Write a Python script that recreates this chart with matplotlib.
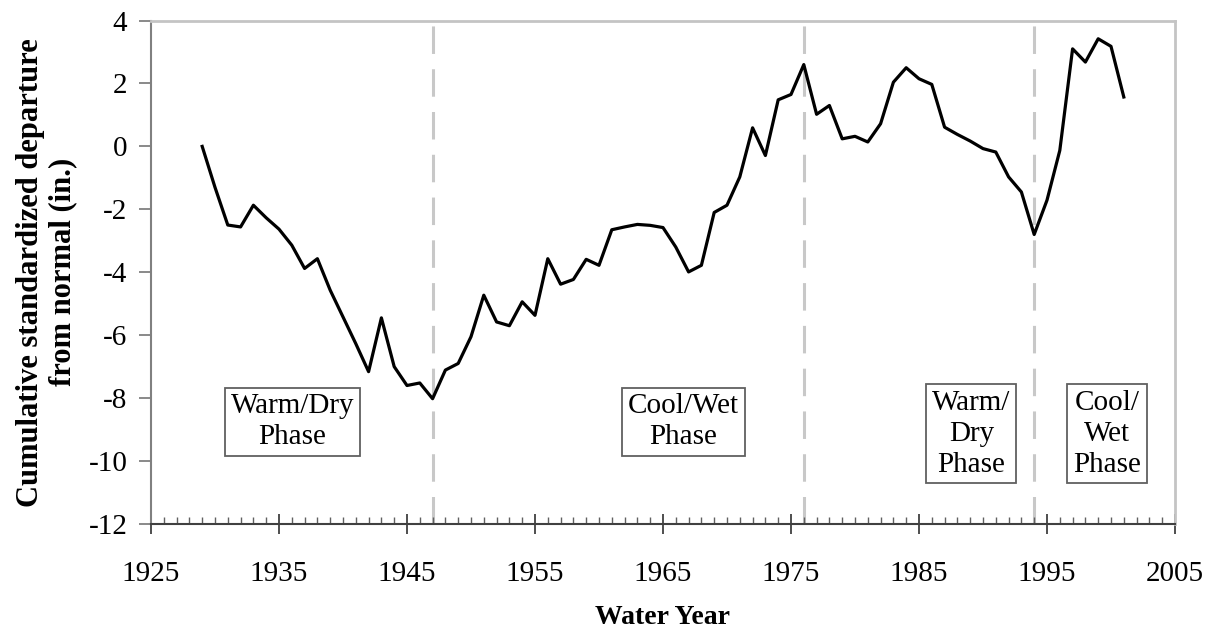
import numpy as np
import matplotlib.pyplot as plt
from matplotlib.ticker import MultipleLocator

plt.rcParams['font.family'] = ['Liberation Serif', 'DejaVu Serif']
plt.rcParams['axes.unicode_minus'] = False

# water years and cumulative standardized departure (in.)
years = list(range(1929, 2002))
departure = [0.0, -1.3, -2.5, -2.56, -1.87, -2.27, -2.63, -3.14, -3.88, -3.57,
             -4.57, -5.42, -6.27, -7.16, -5.45, -7.0, -7.6, -7.52, -8.02,
             -7.11, -6.9, -6.05, -4.73, -5.58, -5.7, -4.94, -5.37, -3.57,
             -4.38, -4.23, -3.59, -3.78, -2.65, -2.56, -2.48, -2.51, -2.58,
             -3.2, -3.99, -3.78, -2.1, -1.87, -0.97, 0.59, -0.29, 1.48, 1.65,
             2.6, 1.02, 1.3, 0.24, 0.32, 0.14, 0.72, 2.04, 2.5, 2.15, 1.97,
             0.61, 0.38, 0.17, -0.07, -0.18, -0.97, -1.45, -2.8, -1.71, -0.13,
             3.1, 2.68, 3.42, 3.18, 1.57]

shift_years = [1947, 1976, 1994]

phase_labels = ['Warm/Dry\nPhase', 'Cool/Wet\nPhase', 'Warm/\nDry\nPhase', 'Cool/\nWet\nPhase']
phase_x = [1936.05, 1966.6, 1989.1, 1999.7]
phase_y = [-8.76, -8.76, -9.13, -9.13]

fig = plt.figure(figsize=(12.05, 6.32), dpi=100)
ax = fig.add_axes([0.1253, 0.171, 0.8498, 0.7965])

for yr in shift_years:
    ax.plot([yr, yr], [-12, 4], color='#c8c8c8', lw=2.2, dashes=(9, 5), zorder=1)

ax.plot(years, departure, color='black', lw=2.3, zorder=3)

for lab, px, py in zip(phase_labels, phase_x, phase_y):
    ax.text(px, py, lab, ha='center', va='center', fontsize=21,
            linespacing=1.25, zorder=4,
            bbox=dict(boxstyle='square,pad=0.2', fc='white', ec='#606060', lw=1.3))

ax.set_xlim(1925, 2005)
ax.set_ylim(-12, 4)
ax.xaxis.set_major_locator(MultipleLocator(10, offset=5))
ax.xaxis.set_minor_locator(MultipleLocator(1))
ax.yaxis.set_major_locator(MultipleLocator(2))

ax.tick_params(axis='x', which='major', direction='inout', length=14, width=1.3,
               color='#404040', labelsize=21, pad=20)
ax.tick_params(axis='x', which='minor', direction='in', length=5, width=1,
               color='#606060')
ax.tick_params(axis='y', which='major', direction='out', length=9, width=1.3,
               color='#808080', labelsize=21, pad=8)

for side in ['top', 'right']:
    ax.spines[side].set_color('#c4c4c4')
    ax.spines[side].set_linewidth(2)
ax.spines['left'].set_color('#808080')
ax.spines['left'].set_linewidth(1.5)
ax.spines['bottom'].set_color('#404040')
ax.spines['bottom'].set_linewidth(1.5)

ax.set_xlabel('Water Year', fontsize=20, fontweight='bold', labelpad=13)
ax.set_ylabel('Cumulative standardized departure\nfrom normal (in.)', fontsize=22,
              fontweight='bold', labelpad=8, linespacing=1.15)

fig.savefig('out.png', dpi=100)
